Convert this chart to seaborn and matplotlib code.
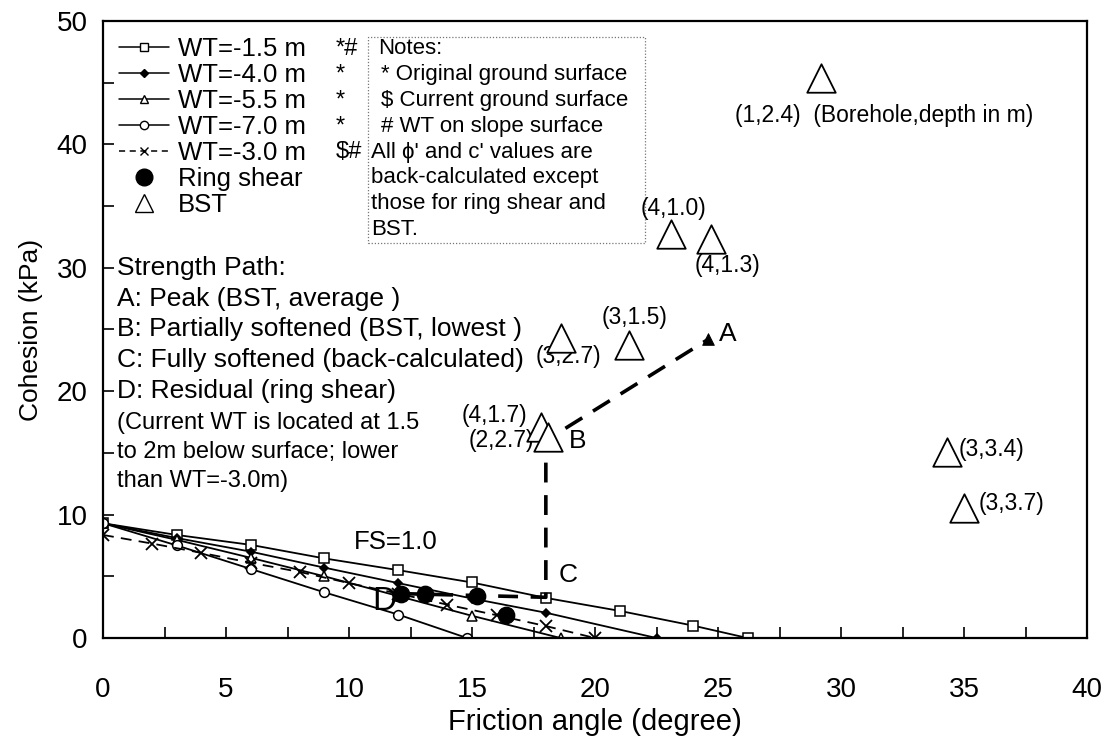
import matplotlib
matplotlib.use("Agg")
import matplotlib.pyplot as plt
import seaborn as sns
from matplotlib.lines import Line2D
from matplotlib.patches import Rectangle
from matplotlib.ticker import MultipleLocator

# ---------------- data ----------------
phi_wt15 = [0, 3, 6, 9, 12, 15, 18, 21, 24, 26.2]
c_wt15 = [9.3, 8.35, 7.55, 6.45, 5.5, 4.5, 3.25, 2.2, 1.0, 0]
phi_wt40 = [0, 3, 6, 9, 12, 15, 18, 22.5]
c_wt40 = [9.3, 8.1, 7.0, 5.7, 4.45, 3.2, 2.05, 0]
phi_wt55 = [0, 3, 6, 9, 12, 15, 18.6]
c_wt55 = [9.3, 7.95, 6.5, 5.0, 3.4, 1.8, 0]
phi_wt70 = [0, 3, 6, 9, 12, 14.8]
c_wt70 = [9.3, 7.5, 5.6, 3.7, 1.9, 0]
phi_wt30 = [0, 2, 4, 6, 8, 10, 12, 14, 16, 18, 20]
c_wt30 = [8.35, 7.65, 6.9, 6.1, 5.35, 4.45, 3.6, 2.7, 1.85, 0.97, 0]

phi_ring = [12.1, 13.1, 15.2, 16.4]
c_ring = [3.6, 3.55, 3.4, 1.9]

bst_labels = ["(1,2.4)", "(4,1.0)", "(4,1.3)", "(3,1.5)", "(3,2.7)", "(4,1.7)", "(2,2.7)", "(3,3.4)", "(3,3.7)"]
phi_bst = [29.2, 23.1, 24.7, 21.4, 18.6, 17.8, 18.1, 34.3, 35.0]
c_bst = [45.4, 32.7, 32.3, 23.7, 24.3, 17.1, 16.3, 15.1, 10.5]

phi_path = [12.1, 18.0, 18.0, 24.6]
c_path = [3.6, 3.3, 16.0, 24.2]

legend_labels = ["WT=-1.5 m", "WT=-4.0 m", "WT=-5.5 m", "WT=-7.0 m", "WT=-3.0 m", "Ring shear", "BST"]
legend_marks = ["*#", "*", "*", "*", "$#", "", ""]

notes_lines = ["Notes:", "* Original ground surface", "$ Current ground surface", "# WT on slope surface",
               "All \u03d5' and c' values are", "back-calculated except", "those for ring shear and", "BST."]
path_lines = ["Strength Path:", "A: Peak (BST, average )", "B: Partially softened (BST, lowest )",
              "C: Fully softened (back-calculated)", "D: Residual (ring shear)"]
wt_note = ["(Current WT is located at 1.5", "to 2m below surface; lower", "than WT=-3.0m)"]

# ---------------- style ----------------
sns.set_theme(style="ticks")
plt.rcParams["font.family"] = ["Liberation Sans", "DejaVu Sans"]
for k in ["text.color", "axes.labelcolor", "xtick.color", "ytick.color", "axes.edgecolor"]:
    plt.rcParams[k] = "black"

fig = plt.figure(figsize=(11.14, 7.4), dpi=100)
ax = fig.add_axes([0.0925, 0.1378, 0.8833, 0.834])

lw = 1.3
series = [
    (phi_wt15, c_wt15, dict(marker="s", markersize=7, markerfacecolor="white")),
    (phi_wt40, c_wt40, dict(marker="D", markersize=4.5, markerfacecolor="black")),
    (phi_wt55, c_wt55, dict(marker="^", markersize=7, markerfacecolor="white")),
    (phi_wt70, c_wt70, dict(marker="o", markersize=7, markerfacecolor="white")),
]
for px, cy, kw in series:
    sns.lineplot(x=px, y=cy, ax=ax, color="black", linewidth=lw, markeredgecolor="black",
                 markeredgewidth=1.1, sort=False, estimator=None, legend=False, **kw)

sns.lineplot(x=phi_wt30, y=c_wt30, ax=ax, color="black", linewidth=lw, marker="x", markersize=8,
             markeredgewidth=1.3, markeredgecolor="black", sort=False, estimator=None, legend=False)
ax.lines[-1].set_dashes((6, 4))

# strength path
sns.lineplot(x=phi_path, y=c_path, ax=ax, color="black", linewidth=2.6, sort=False,
             estimator=None, legend=False)
ax.lines[-1].set_dashes((5.5, 3.5))
sns.scatterplot(x=phi_path[-1:], y=c_path[-1:], ax=ax, marker="^", s=70, color="black",
                edgecolor="black", zorder=6, legend=False)

# ring shear
sns.scatterplot(x=phi_ring, y=c_ring, ax=ax, color="black", s=140, edgecolor="black", zorder=5, legend=False)

# BST
sns.scatterplot(x=phi_bst, y=c_bst, ax=ax, marker="^", s=420, facecolor="white", edgecolor="black",
                linewidth=1.3, zorder=6, legend=False)

ax.set_xlim(0, 40)
ax.set_ylim(0, 50)
ax.xaxis.set_major_locator(MultipleLocator(5))
ax.xaxis.set_minor_locator(MultipleLocator(2.5))
ax.yaxis.set_major_locator(MultipleLocator(10))
ax.yaxis.set_minor_locator(MultipleLocator(5))
ax.tick_params(which="both", direction="in", length=8, width=1.2, top=False, right=False,
               labelsize=20, colors="black")
ax.tick_params(axis="x", pad=28)
ax.tick_params(axis="y", pad=11)
for s in ax.spines.values():
    s.set_visible(True)
    s.set_color("black")
    s.set_linewidth(1.6)
ax.set_xlabel("Friction angle (degree)", fontsize=21, labelpad=4)
ax.set_ylabel("Cohesion (kPa)", fontsize=19, labelpad=10)
ax.set_facecolor("white")
ax.grid(False)

# legend
handles = [
    Line2D([], [], color="black", lw=1.1, marker="s", markersize=6, markerfacecolor="white"),
    Line2D([], [], color="black", lw=1.1, marker="D", markersize=4, markerfacecolor="black"),
    Line2D([], [], color="black", lw=1.1, marker="^", markersize=6, markerfacecolor="white"),
    Line2D([], [], color="black", lw=1.1, marker="o", markersize=6, markerfacecolor="white"),
    Line2D([], [], color="black", lw=1.1, marker="x", markersize=6, linestyle=(0, (4, 3))),
    Line2D([], [], color="black", lw=0, marker="o", markersize=12),
    Line2D([], [], color="black", lw=0, marker="^", markersize=13, markerfacecolor="white"),
]
leg = ax.legend(handles, legend_labels, loc="upper left", frameon=False, fontsize=18.5,
                handlelength=1.95, handletextpad=0.35, labelspacing=0.08, borderaxespad=0.42,
                borderpad=0.2)

row_step = 2.09
row_y = [47.73 - i * row_step for i in range(8)]
for yv, m in zip(row_y, legend_marks):
    if m:
        ax.text(9.45, yv, m, fontsize=17, va="center", ha="left")

# notes box
ax.add_patch(Rectangle((10.77, 32.0), 11.25, 16.7, fill=False, edgecolor="#777777", lw=0.9,
                       linestyle=(0, (1, 1.5))))
for i, t in enumerate(notes_lines):
    if i == 0:
        xx = 11.2
    elif i < 4:
        xx = 11.3
    else:
        xx = 10.9
    ax.text(xx, row_y[i], t, fontsize=16, va="center", ha="left")

for i, t in enumerate(path_lines):
    ax.text(0.55, 30.0 - i * 2.5, t, fontsize=19, va="center", ha="left")
for i, t in enumerate(wt_note):
    ax.text(0.55, 17.4 - i * 2.35, t, fontsize=17, va="center", ha="left")

# point labels
ax.text(25.7, 42.3, "(1,2.4)  (Borehole,depth in m)", fontsize=16.5, va="center", ha="left")
ax.text(23.2, 34.8, "(4,1.0)", fontsize=16.5, va="center", ha="center")
ax.text(25.4, 30.2, "(4,1.3)", fontsize=16.5, va="center", ha="center")
ax.text(21.6, 26.0, "(3,1.5)", fontsize=16.5, va="center", ha="center")
ax.text(18.9, 22.8, "(3,2.7)", fontsize=16.5, va="center", ha="center")
ax.text(15.9, 18.0, "(4,1.7)", fontsize=16.5, va="center", ha="center")
ax.text(16.2, 16.0, "(2,2.7)", fontsize=16.5, va="center", ha="center")
ax.text(34.8, 15.3, "(3,3.4)", fontsize=16.5, va="center", ha="left")
ax.text(35.6, 10.9, "(3,3.7)", fontsize=16.5, va="center", ha="left")

ax.text(25.4, 24.6, "A", fontsize=19, va="center", ha="center")
ax.text(19.3, 16.0, "B", fontsize=19, va="center", ha="center")
ax.text(18.9, 5.1, "C", fontsize=19, va="center", ha="center")
ax.text(11.45, 2.95, "D", fontsize=24, va="center", ha="center")
ax.text(11.9, 7.8, "FS=1.0", fontsize=18.5, va="center", ha="center")

fig.savefig("out.png", dpi=100, facecolor="white")
